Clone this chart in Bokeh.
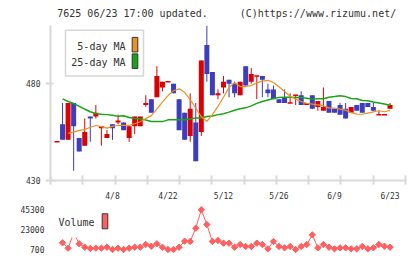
import math
import numpy as np
from bokeh.plotting import figure
from bokeh.layouts import column
from bokeh.models import Range1d, FixedTicker, LinearAxis, ColumnDataSource
from bokeh.core.properties import value
from bokeh.embed import file_html
from bokeh.resources import INLINE

# ---- daily prices (yen) ----
opens = [450, 459, 451, 470, 452, 448, 463, 463, 457, 452,
         459, 460, 460, 452, 458, 458, 469, 472, 473, 478,
         481, 480, 472, 465, 453, 460, 455, 500, 486, 474,
         478, 482, 480, 474, 489, 481, 484, 484, 477, 477,
         472, 473, 470, 474, 474, 469, 474, 468, 466, 471,
         467, 469, 467, 465, 469, 470, 470, 468, 464, 464,
         467]
highs = [450, 470, 470, 470, 452, 462, 463, 469, 458, 456,
         459, 464, 460, 458, 463, 463, 474, 472, 489, 481,
         481, 480, 472, 465, 475, 470, 492, 510, 486, 477,
         484, 482, 481, 481, 489, 488, 484, 484, 480, 479,
         472, 477, 475, 474, 476, 470, 474, 471, 478, 471,
         467, 470, 470, 468, 469, 470, 470, 470, 466, 464,
         470]
lows = [450, 451, 451, 435, 445, 448, 450, 462, 448, 452,
        451, 459, 456, 450, 454, 458, 468, 465, 473, 476,
        481, 475, 456, 451, 450, 440, 453, 481, 474, 472,
        475, 473, 473, 474, 479, 480, 472, 473, 473, 472,
        470, 470, 470, 469, 469, 469, 467, 466, 466, 465,
        465, 464, 462, 465, 466, 465, 468, 466, 464, 464,
        467]
closes = [450, 451, 470, 458, 445, 455, 462, 465, 458, 454,
          457, 461, 456, 458, 463, 463, 470, 465, 484, 481,
          481, 475, 456, 451, 467, 440, 492, 485, 474, 475,
          481, 480, 475, 481, 479, 485, 484, 482, 475, 472,
          470, 470, 470, 474, 469, 470, 467, 471, 468, 465,
          465, 464, 462, 468, 466, 465, 468, 466, 464, 464,
          469]

# ---- moving averages ----
nan = float("nan")
ma5 = [nan, nan, 454.3, 455.0, 455.9, 456.3, 457.5, 458.4, 457.8, 457.0,
       457.9, 458.4, 458.5, 458.5, 459.3, 460.3, 462.0, 463.5, 467.0, 470.5,
       473.8, 476.3, 477.3, 475.5, 471.8, 467.3, 463.0, 460.5, 464.0, 468.3,
       473.0, 478.0, 480.5, 478.5, 478.5, 479.0, 480.4, 481.3, 481.7, 480.6,
       478.4, 475.9, 473.5, 472.0, 470.8, 469.8, 469.4, 469.0, 468.5, 467.5,
       467.4, 466.8, 466.3, 465.0, 464.3, 464.2, 464.8, 465.4, 466.0, 465.5,
       466.2]
ma25 = [nan, 472.1, 470.8, 469.8, 468.3, 466.8, 465.5, 464.5, 464.2, 464.0,
        463.7, 463.1, 463.4, 462.5, 462.0, 461.7, 461.2, 460.5, 460.4, 460.4,
        461.3, 461.4, 461.4, 461.4, 461.8, 462.3, 462.3, 463.0, 463.3, 464.0,
        464.5, 465.3, 466.3, 467.0, 467.5, 468.5, 469.8, 470.8, 471.5, 472.3,
        472.9, 473.0, 473.0, 472.9, 472.9, 472.5, 472.0, 472.2, 472.2, 473.0,
        473.3, 473.8, 473.3, 472.3, 472.2, 471.3, 471.2, 470.5, 470.0, 469.5,
        468.8]

# ---- traded volume ----
volume = [nan, 8500, 2500, 19400, 7400, 3600, 2200, 2500, 2500, 3600,
          1000, 2500, 1000, 2500, 3600, 3600, 6600, 4700, 7400, 3600,
          1000, 1000, 3600, 10300, 10000, 24800, 45300, 28900, 10000, 11100,
          8100, 8100, 3600, 6600, 4400, 4400, 8100, 6600, 1800, 10000,
          4400, 2900, 4400, 1000, 4400, 6600, 17400, 2900, 6600, 3600,
          1800, 2900, 2900, 1800, 1800, 4400, 1800, 2900, 6600, 4700,
          3600]

date_ticks = [10, 20, 30, 40, 50, 60]
date_labels = ["4/8", "4/22", "5/12", "5/26", "6/9", "6/23"]
price_ticks = [430, 480]
volume_ticks = [700, 23000, 45300]

# ---- styling ----
MONO = "DejaVu Sans Mono"
RED = "#dc0000"
BLUE = "#3d3dbf"
ORANGE = "#f0901e"
GREEN = "#16a516"
VOL = "#ff5f5f"
AXIS = "#d9d9d9"
TXT = "#333333"

W = 420
LEFT, RIGHT = 50, 15
X_LO, X_HI = -1.17, 62.79
PLOT_W = W - LEFT - RIGHT

n = len(closes)
idx = np.arange(n)
o = np.array(opens, float)
c = np.array(closes, float)
colors = [RED if cc >= oo else BLUE for oo, cc in zip(o, c)]
src = ColumnDataSource(dict(
    x=idx, high=highs, low=lows,
    top=np.maximum(o, c), bottom=np.minimum(o, c), color=colors,
))
flat = o == c
flat_src = ColumnDataSource(dict(
    x0=idx[flat] - 0.45, x1=idx[flat] + 0.45, y=c[flat],
    color=[colors[i] for i in idx[flat]],
))


def fx(px):
    """page x pixel -> x data value (shared by both panels)"""
    return X_LO + (px - LEFT) / PLOT_W * (X_HI - X_LO)


# ---------- header ----------
head = figure(width=W, height=20, x_range=Range1d(0, W), y_range=Range1d(0, 20),
              x_axis_type=None, y_axis_type=None, toolbar_location=None,
              output_backend="svg", min_border=0, outline_line_color=None)
head.grid.visible = False
head.text(x=[8], y=[6.7], text=["7625 06/23 17:00 updated."],
          text_font=value(MONO), text_font_size="10px", text_baseline="middle",
          text_color=TXT)
head.text(x=[409], y=[6.7], text=["(C)https://www.rizumu.net/"],
          text_font=value(MONO), text_font_size="10px", text_baseline="middle",
          text_align="right", text_color=TXT)

# ---------- price panel ----------
TOP_PAD, PRICE_H, BOT_PAD = 5, 160, 18
p = figure(width=W, height=TOP_PAD + PRICE_H + BOT_PAD,
           x_range=Range1d(X_LO, X_HI), y_range=Range1d(430, 510),
           x_axis_type=None, y_axis_type=None, toolbar_location=None,
           output_backend="svg", min_border_left=LEFT, min_border_right=RIGHT,
           min_border_top=TOP_PAD, min_border_bottom=BOT_PAD,
           outline_line_color=None)
p.grid.visible = False

grid_ticks = list(np.linspace(X_LO, X_HI, 12))
xa = LinearAxis(ticker=FixedTicker(ticks=date_ticks, minor_ticks=grid_ticks),
                major_label_overrides={t: s for t, s in zip(date_ticks, date_labels)},
                axis_line_color=AXIS, axis_line_width=2,
                major_tick_line_color=None, major_tick_in=0, major_tick_out=0,
                minor_tick_line_color=AXIS, minor_tick_line_width=2,
                minor_tick_in=5, minor_tick_out=4,
                major_label_standoff=7, major_label_text_font=MONO,
                major_label_text_font_size="8px", major_label_text_color=TXT)
p.add_layout(xa, "below")
ya = LinearAxis(ticker=FixedTicker(ticks=price_ticks, minor_ticks=[]),
                axis_line_color=AXIS, axis_line_width=2,
                major_tick_line_color=AXIS, major_tick_line_width=2,
                major_tick_in=3, major_tick_out=5, minor_tick_line_color=None,
                major_label_standoff=5, major_label_text_font=MONO,
                major_label_text_font_size="8px", major_label_text_color=TXT)
p.add_layout(ya, "left")

p.segment(x0="x", y0="low", x1="x", y1="high", color="color", line_width=1, source=src)
p.vbar(x="x", width=0.9, top="top", bottom="bottom", fill_color="color",
       line_color=None, source=src)
p.segment(x0="x0", y0="y", x1="x1", y1="y", color="color", line_width=1.5,
          source=flat_src)
p.line(idx, ma25, color=GREEN, line_width=1.5)
p.line(idx, ma5, color=ORANGE, line_width=1.2)


def fy(py):
    """page y pixel -> price on the price panel"""
    top = 20 + TOP_PAD
    return 510 - (py - top) / PRICE_H * 80


p.quad(left=[fx(65)], right=[fx(143)], top=[fy(30)], bottom=[fy(77)],
       fill_color="white", line_color="#d6d6d6", line_width=1.5)
p.text(x=[fx(125), fx(125)], y=[fy(46.5), fy(63)], text=["5-day MA", "25-day MA"],
       text_font=value(MONO), text_font_size="10px", text_align="right",
       text_baseline="middle", text_color=TXT)
p.quad(left=[fx(131.7)] * 2, right=[fx(137.3)] * 2, top=[fy(37.3), fy(54.3)],
       bottom=[fy(52.3), fy(69.3)], fill_color=[ORANGE, GREEN],
       line_color="#333333", line_width=1)

# ---------- volume panel ----------
V_TOP = 20 + TOP_PAD + PRICE_H + BOT_PAD     # page y of the volume frame top
V_H, V_BOT = 53, 3
V_PER_PX = 1115.0
V_BASE_PY = 249.3                            # page y of the 700 level
v_hi = 700 + (V_BASE_PY - V_TOP) * V_PER_PX
v_lo = 700 - (V_TOP + V_H - V_BASE_PY) * V_PER_PX

v = figure(width=W, height=V_H + V_BOT, x_range=p.x_range,
           y_range=Range1d(v_lo, v_hi), x_axis_type=None, y_axis_type=None,
           toolbar_location=None, output_backend="svg",
           min_border_left=LEFT, min_border_right=RIGHT, min_border_top=0,
           min_border_bottom=V_BOT, outline_line_color=None)
v.grid.visible = False
vya = LinearAxis(ticker=FixedTicker(ticks=volume_ticks, minor_ticks=[]),
                 major_label_overrides={t: str(t) for t in volume_ticks},
                 axis_line_color=None, major_tick_line_color=None,
                 major_tick_in=0, major_tick_out=0, minor_tick_line_color=None,
                 major_label_standoff=6, major_label_text_font=MONO,
                 major_label_text_font_size="8px", major_label_text_color=TXT)
v.add_layout(vya, "left")

v.line(idx, volume, color=VOL, line_width=1)
v.scatter(idx, volume, marker="square", angle=math.pi / 4, size=4.5,
          color=VOL)


def fvy(py):
    """page y pixel -> volume on the volume panel"""
    return 700 + (V_BASE_PY - py) * V_PER_PX


v.quad(left=[fx(55)], right=[fx(111)], top=[fvy(207)], bottom=[fvy(237)],
       fill_color="white", line_color=None)
v.text(x=[fx(58)], y=[fvy(222)], text=["Volume"], text_font=value(MONO),
       text_font_size="10px", text_baseline="middle", text_color=TXT)
v.quad(left=[fx(101.7)], right=[fx(107.3)], top=[fvy(213.3)], bottom=[fvy(228.3)],
       fill_color=VOL, line_color="#333333", line_width=1)

layout = column(head, p, v, spacing=0)
open("out.html", "w").write(file_html(layout, INLINE))
